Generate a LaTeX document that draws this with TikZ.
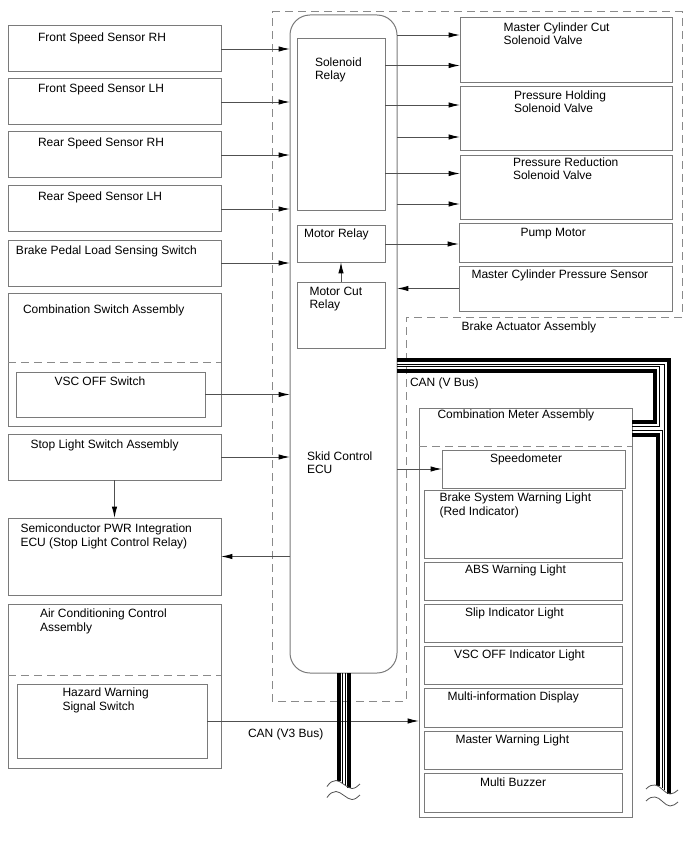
\documentclass[tikz,border=0pt]{standalone}
\usepackage{fontspec}
\setmainfont{Liberation Sans}
\usetikzlibrary{arrows.meta}
\definecolor{boxc}{HTML}{7A7A7A}
\definecolor{linec}{HTML}{505050}
\definecolor{dashc}{HTML}{8A8A8A}
\newcommand\bx[6][]{\node[boxst,#1,anchor=north west,minimum width={(#4-#2)*0.75pt},minimum height={(#5-#3)*0.75pt}] (#6) at (#2,#3) {};}
\newcommand\tx[4]{\node[txt] (#1) at (#2,#3) {#4};}
\begin{document}
\begin{tikzpicture}[x=0.75pt,y=-0.75pt,
  boxst/.style={draw=boxc,line width=0.75pt,inner sep=0pt,outer sep=0pt},
  txt/.style={anchor=base west,inner sep=0pt,outer sep=0pt,align=left,font=\fontsize{9pt}{10.1pt}\selectfont},
  arr/.style={draw=linec,line width=0.7pt,-{Latex[length=8.5pt,width=4pt,color=black]}},
  dsh/.style={draw=dashc,line width=0.75pt,dash pattern=on 6pt off 3.75pt},
  thickw/.style={draw=black,line width=3pt},
  thinw/.style={draw=black,line width=0.75pt},
  tilde/.style={draw=linec,line width=0.6pt}]
\useasboundingbox (0,0) rectangle (688,852);

% brake actuator assembly outline
\coordinate (ba1) at (272,12);
\coordinate (ba2) at (682,12);
\coordinate (ba3) at (682,317);
\coordinate (ba4) at (406,317);
\coordinate (ba5) at (406,701);
\coordinate (ba6) at (272,701);
\draw[dsh] (ba1) -- (ba2) -- (ba3) -- (ba4) -- (ba5) -- (ba6) -- cycle;
\tx{tba}{461.5}{330.5}{Brake Actuator Assembly}

% left column
\bx{8}{26}{221}{72}{fsrh}
\bx{8}{79}{221}{125}{fslh}
\bx{8}{132}{221}{178}{rsrh}
\bx{8}{186}{221}{232}{rslh}
\bx{8}{240}{221}{286}{bpl}
\bx{8}{293}{221}{426}{csa}
\bx{16}{372}{205}{417}{vsc}
\bx{8}{434}{221}{480}{sls}
\bx{8}{518}{221}{595}{spwr}
\bx{8}{604}{221}{768}{acc}
\bx{17}{684}{207}{758}{haz}
\draw[dsh] (csa.west |- 0,362) -- (csa.east |- 0,362);
\draw[dsh] (acc.west |- 0,675) -- (acc.east |- 0,675);

\tx{t1}{38}{41.5}{Front Speed Sensor RH}
\tx{t2}{38}{93}{Front Speed Sensor LH}
\tx{t3}{38}{146.5}{Rear Speed Sensor RH}
\tx{t4}{38}{200.5}{Rear Speed Sensor LH}
\tx{t5}{16}{254}{Brake Pedal Load Sensing Switch}
\tx{t6}{23}{313.5}{Combination Switch Assembly}
\tx{t7}{54.5}{385}{VSC OFF Switch}
\tx{t8}{30.5}{448}{Stop Light Switch Assembly}
\tx{t9}{20.5}{546}{Semiconductor PWR Integration\\ECU (Stop Light Control Relay)}
\tx{t10}{40}{631}{Air Conditioning Control\\Assembly}
\tx{t11}{62.5}{710}{Hazard Warning\\Signal Switch}

% ECU
\node[boxst,rounded corners=15pt,anchor=north west,minimum width={(397-290)*0.75pt},minimum height={(673-15)*0.75pt}] (ecu) at (290,15) {};
\bx{297}{39}{385}{211}{solrel}
\bx{297}{226}{385}{262}{motrel}
\bx{297}{282}{385}{348}{mcut}
\tx{t12}{315}{80}{Solenoid\\Relay}
\tx{t13}{304}{237.5}{Motor Relay}
\tx{t14}{309.5}{308.5}{Motor Cut\\Relay}
\tx{t15}{307}{473.5}{Skid Control\\ECU}

% actuator parts
\bx{460}{18}{672}{83}{mccv}
\bx{460}{87}{672}{151}{phsv}
\bx{460}{156}{672}{220}{prsv}
\bx{459}{224}{672}{262}{pump}
\bx{459}{266}{672}{311}{mcps}
\tx{t16}{503.5}{45}{Master Cylinder Cut\\Solenoid Valve}
\tx{t17}{514}{113}{Pressure Holding\\Solenoid Valve}
\tx{t18}{513}{180}{Pressure Reduction\\Solenoid Valve}
\tx{t19}{520.5}{236.5}{Pump Motor}
\tx{t20}{471.5}{278.5}{Master Cylinder Pressure Sensor}

% combination meter
\bx{419}{408}{632}{817}{meter}
\draw[dsh] (meter.west |- 0,446) -- (meter.east |- 0,446);
\bx{442}{450}{625}{488}{speedo}
\bx{424}{490}{622}{558}{bswl}
\bx{424}{562}{622}{600}{abs}
\bx{424}{604}{622}{642}{slip}
\bx{424}{646}{622}{684}{vscind}
\bx{424}{688}{622}{727}{mid}
\bx{424}{731}{622}{769}{mwl}
\bx{424}{773}{622}{812}{mb}
\tx{t21}{437.5}{418.5}{Combination Meter Assembly}
\tx{t22}{490}{462.5}{Speedometer}
\tx{t23}{439.5}{515}{Brake System Warning Light\\(Red Indicator)}
\tx{t24}{465}{573.5}{ABS Warning Light}
\tx{t25}{465}{616}{Slip Indicator Light}
\tx{t26}{454}{658}{VSC OFF Indicator Light}
\tx{t27}{447.5}{700.5}{Multi-information Display}
\tx{t28}{455.5}{743.5}{Master Warning Light}
\tx{t29}{480}{786}{Multi Buzzer}

\tx{t30}{410}{386.5}{CAN (V Bus)}
\tx{t31}{248}{737.5}{CAN (V3 Bus)}

% connectors
\draw[arr] (fsrh.east) -- (fsrh.east -| ecu.west);
\draw[arr] (fslh.east) -- (fslh.east -| ecu.west);
\draw[arr] (rsrh.east) -- (rsrh.east -| ecu.west);
\draw[arr] (rslh.east) -- (rslh.east -| ecu.west);
\draw[arr] (bpl.east) -- (bpl.east -| ecu.west);
\draw[arr] (vsc.east) -- (vsc.east -| ecu.west);
\draw[arr] (sls.east) -- (sls.east -| ecu.west);
\draw[arr] (sls.south) -- (spwr.north);
\draw[arr] (spwr.east -| ecu.west) -- (spwr.east);
\draw[arr] (haz.east) -- (haz.east -| meter.west);
\draw[arr] (speedo.west -| ecu.east) -- (speedo.west);
\draw[arr] (mcut.north) -- (motrel.south);
\draw[arr] (motrel.east) -- (motrel.east -| pump.west);
\draw[arr] (mcps.west) -- (mcps.west -| ecu.east);
\draw[arr] (ecu.east |- 0,35) -- (mccv.west |- 0,35);
\draw[arr] (solrel.east |- 0,65.5) -- (mccv.west |- 0,65.5);
\draw[arr] (solrel.east |- 0,105) -- (phsv.west |- 0,105);
\draw[arr] (ecu.east |- 0,137) -- (phsv.west |- 0,137);
\draw[arr] (solrel.east |- 0,173.5) -- (prsv.west |- 0,173.5);
\draw[arr] (ecu.east |- 0,204) -- (prsv.west |- 0,204);

% CAN V bus
\draw[thickw] (ecu.east |- 0,359.5) -- (668.7,359.5) -- (668.7,793.5);
\draw[thinw] (ecu.east |- 0,364) -- (664.8,364) -- (664.8,790);
\draw[thinw] (ecu.east |- 0,366.5) -- (659.5,366.5) -- (659.5,426.5) -- (meter.east |- 0,426.5);
\draw[thickw] (ecu.east |- 0,370.7) -- (655,370.7) -- (655,422) -- (meter.east |- 0,422);
\draw[thinw] (meter.east |- 0,430.5) -- (662.3,430.5) -- (662.3,788);
\draw[thickw] (meter.east |- 0,434.5) -- (658,434.5) -- (658,786);
\draw[tilde] (646,789) .. controls (650,785) and (652,785) .. (655,785) .. controls (660,785) and (665,794) .. (670,794) .. controls (673,794) and (676,792) .. (678,790);
\draw[tilde] (646,801) .. controls (650,797) and (652,797) .. (655,797) .. controls (660,797) and (665,806) .. (670,806) .. controls (673,806) and (676,804) .. (678,802);

% CAN V3 bus
\draw[thickw] (ecu.south -| 338.5,0) -- (338.5,781);
\draw[thinw] (ecu.south -| 342.5,0) -- (342.5,782.5);
\draw[thinw] (ecu.south -| 345.3,0) -- (345.3,784.5);
\draw[thickw] (ecu.south -| 349.3,0) -- (349.3,787.5);
\draw[tilde] (327,786.5) .. controls (330,782) and (333,780.5) .. (336,780.5) .. controls (341,780.5) and (347,788.5) .. (352,788.5) .. controls (355,788.5) and (358,786) .. (360,784);
\draw[tilde] (327,797.5) .. controls (330,793) and (333,791.5) .. (336,791.5) .. controls (341,791.5) and (347,799.5) .. (352,799.5) .. controls (355,799.5) and (358,797) .. (360,795);
\end{tikzpicture}
\end{document}
